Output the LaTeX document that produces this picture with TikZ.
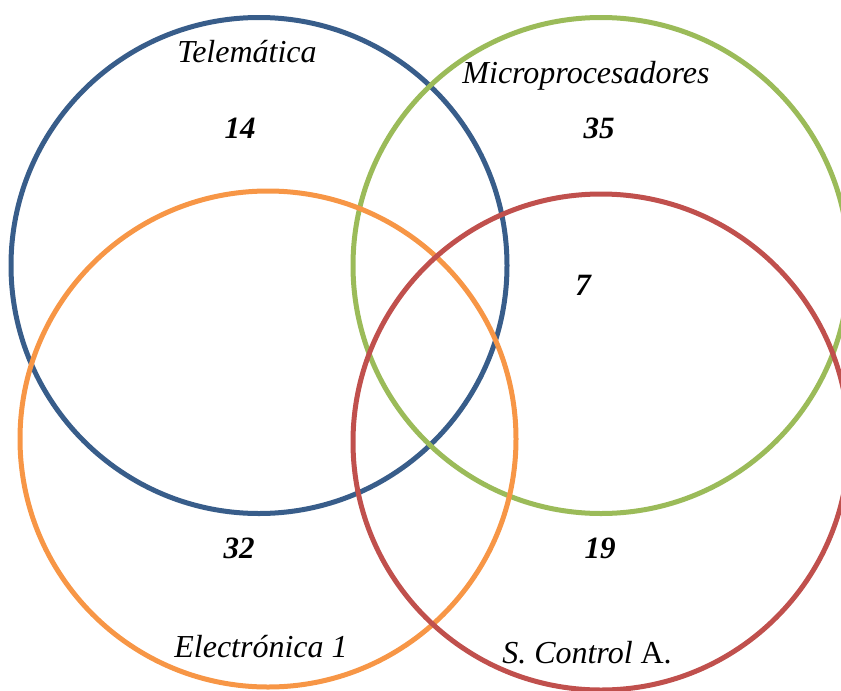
\documentclass[tikz,border=0pt]{standalone}
\usepackage{fontspec}
\setmainfont{Liberation Serif}
\definecolor{setblue}{HTML}{385D8A}
\definecolor{setgreen}{HTML}{9BBB59}
\definecolor{setorange}{HTML}{F79646}
\definecolor{setred}{HTML}{C0504D}
\begin{document}
\begin{tikzpicture}[x=1pt,y=-1pt,
  setring/.style={line width=5pt},
  setname/.style={anchor=base,inner sep=0pt,font=\fontsize{32}{32}\selectfont\itshape},
  count/.style={anchor=base,inner sep=0pt,font=\fontsize{31}{31}\selectfont\bfseries\itshape}]
  \useasboundingbox (0,0) rectangle (841,691);
  \begin{scope}
    \clip (0,0) rectangle (841,691);
    \draw[setring,setblue]   (259,265.5) circle[radius=248];
    \draw[setring,setgreen]  (601,265.5) circle[radius=248];
    \draw[setring,setorange] (268,439) circle[radius=248];
    \draw[setring,setred]    (601,442) circle[radius=248];
  \end{scope}
  \node[setname] (tele)  at (247,62)  {Telemática};
  \node[setname] (micro) at (586,83)  {Microprocesadores};
  \node[setname] (elec)  at (261,657) {Electrónica 1};
  \node[setname] (ctrl)  at (587,663) {S. Control\/ \upshape A.};
  \node[count] (n14) at (240,138) {14};
  \node[count] (n35) at (599,138) {35};
  \node[count] (n7)  at (583,295) {7};
  \node[count] (n32) at (239,558) {32};
  \node[count] (n19) at (600,558) {19};
\end{tikzpicture}
\end{document}
